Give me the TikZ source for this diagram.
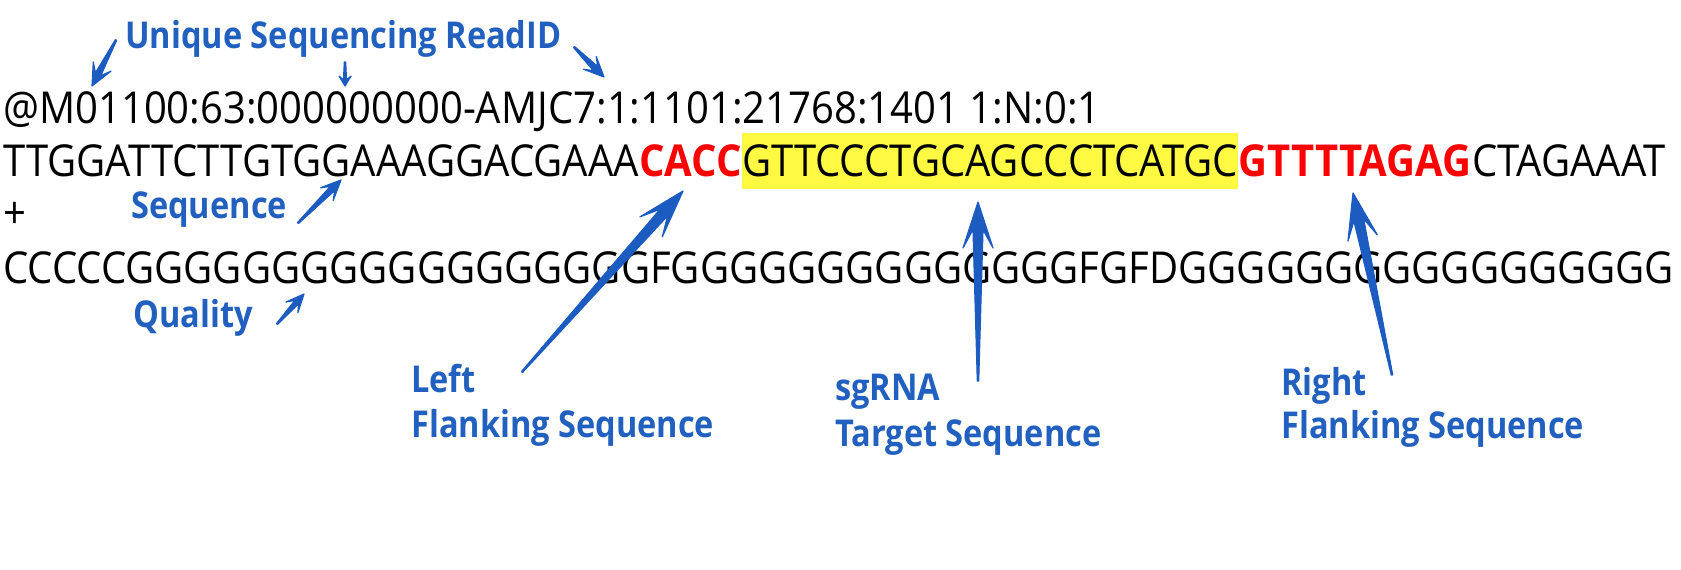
\documentclass[tikz,border=0pt]{standalone}
\usepackage{fontspec}
\setmainfont{Open Sans}[FakeStretch=0.91]
\newfontfamily\labfont{Open Sans}[FakeStretch=0.88]
\usetikzlibrary{calc}
\definecolor{labblue}{RGB}{33,96,190}
\definecolor{arrblue}{RGB}{28,92,192}
\definecolor{hly}{RGB}{255,250,65}
\definecolor{seqred}{RGB}{255,0,0}
\newcommand\tarrow[5]{%
  \path let \p1=($(#2)-(#1)$) in \pgfextra{%
    \pgfmathsetmacro\TAang{atan2(\y1,\x1)}%
    \pgfmathsetmacro\TAlen{veclen(\x1,\y1)}%
    \xdef\TAang{\TAang}\xdef\TAlen{\TAlen}};
  \begin{scope}[shift={(#2)},rotate=\TAang,x=1pt,y=1pt]
    \filldraw[arrstyle] (0,0) -- (-#3,#4) -- (-0.6*#3,#5) -- (-\TAlen,0.7) -- (-\TAlen,-0.7) -- (-0.6*#3,-#5) -- (-#3,-#4) -- cycle;
  \end{scope}}
\begin{document}
\begin{tikzpicture}[x=1pt,y=-1pt,
  seq/.style={inner sep=0pt,anchor=base west,font=\fontsize{44}{53}\selectfont},
  redseq/.style={seq,text=seqred,font=\fontsize{44}{53}\selectfont\bfseries},
  lab/.style={inner sep=0pt,anchor=base west,text=labblue,font=\labfont\fontsize{37}{45}\selectfont\bfseries},
  arrstyle/.style={fill=arrblue,draw=arrblue,line width=1.2pt,line join=round}]
\useasboundingbox (0,0) rectangle (1681,570);
% header line
\node[seq] (hdr) at (3,123) {@M01100:63:000000000-AMJC7:1:1101:21768:1401 1:N:0:1};
% sequence line
\node[seq] (s1) at (3,176) {TTGGATTCTTGTGGAAAGGACGAAA};
\node[redseq] (s2) at (s1.base east) {CACC};
\node[seq,fill=hly,text height=43pt,text depth=13pt] (s3) at (s2.base east) {GTTCCCTGCAGCCCTCATGC};
\node[redseq] (s4) at (s3.base east) {GTTTTAGAG};
\node[seq] (s5) at (s4.base east) {CTAGAAAT};
% plus line
\node[seq] (plus) at (3,228) {+};
% quality line
\node[seq] (qual) at (3,283) {CCCCCGGGGGGGGGGGGGGGGGGFGGGGGGGGGGGGGGFGFDGGGGGGGGGGGGGGGGG};
% labels
\node[lab] (uid) at (125,48) {Unique Sequencing ReadID};
\node[lab] (seqlab) at (131,218) {Sequence};
\node[lab] (quallab) at (133,327) {Quality};
\node[lab] (left1) at (411,392) {Left};
\node[lab] (left2) at (411,437) {Flanking Sequence};
\node[lab] (sg1) at (835,400) {sgRNA};
\node[lab] (sg2) at (835,446) {Target Sequence};
\node[lab] (right1) at (1281,395) {Right};
\node[lab] (right2) at (1281,438) {Flanking Sequence};
% arrow end points
\coordinate (u1t) at (116,40);  \coordinate (u1h) at (92,86);
\coordinate (u2t) at (345,62);  \coordinate (u2h) at (345,86);
\coordinate (u3t) at (574,47);  \coordinate (u3h) at (604,77);
\coordinate (sqt) at (298,223); \coordinate (sqh) at (341,180);
\coordinate (qlt) at (277,324); \coordinate (qlh) at (304,294);
\coordinate (lft) at (522,372); \coordinate (lfh) at (683,191);
\coordinate (sgt) at (978,381); \coordinate (sgh) at (978,202);
\coordinate (rtt) at (1392,375);\coordinate (rth) at (1353,193);
% arrows
\tarrow{u1t}{u1h}{22}{10}{3}
\tarrow{u2t}{u2h}{10}{6}{1.5}
\tarrow{u3t}{u3h}{20}{9}{3}
\tarrow{sqt}{sqh}{20}{9}{3}
\tarrow{qlt}{qlh}{18}{8}{2.5}
\tarrow{lft}{lfh}{48}{15}{5}
\tarrow{sgt}{sgh}{46}{15}{5}
\tarrow{rtt}{rth}{46}{15}{5}
\end{tikzpicture}
\end{document}
